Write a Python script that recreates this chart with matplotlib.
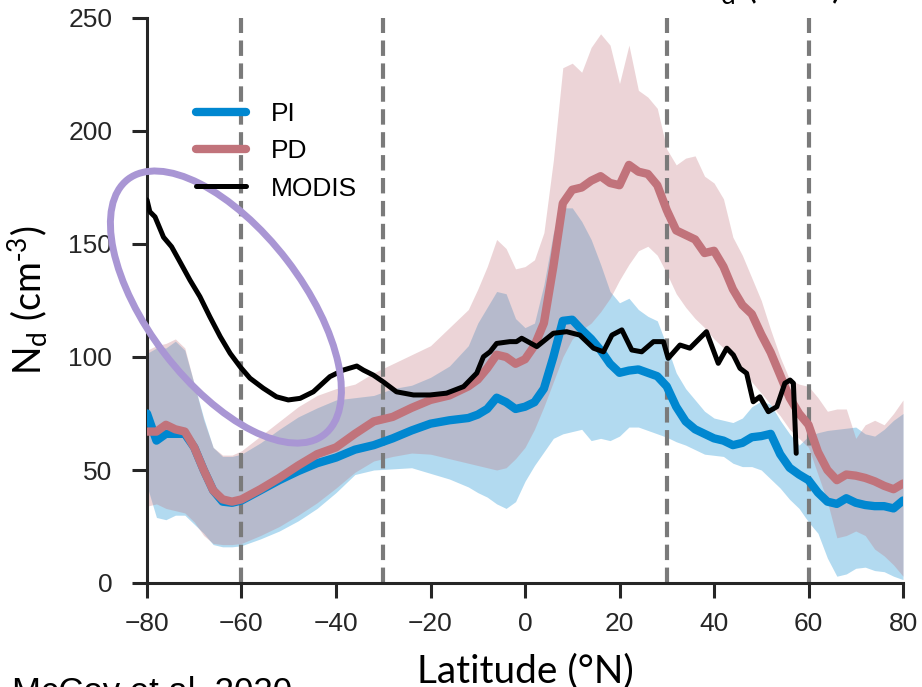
import numpy as np
import matplotlib
matplotlib.use("Agg")
import matplotlib.pyplot as plt
from matplotlib.patches import Ellipse
from matplotlib.transforms import ScaledTranslation

plt.rcParams['font.family'] = ['Liberation Sans', 'DejaVu Sans']
plt.rcParams['mathtext.default'] = 'regular'

# latitude grid for the model curves and their spread
lat = [-80, -78, -76, -74, -72, -70, -68, -66, -64, -62, -60, -56, -52, -48, -44,
       -40, -36, -32, -28, -24, -20, -16, -12, -10, -8, -6, -4, -2, 0, 2, 4, 6,
       8, 10, 12, 14, 16, 18, 20, 22, 24, 26, 28, 30, 32, 34, 36, 38, 40, 42, 44,
       46, 48, 50, 52, 54, 56, 58, 60, 62, 64, 66, 68, 70, 72, 74, 76, 78, 80]

pi_mean = [75, 63, 66, 66, 66, 60, 50, 41, 36, 35.5, 36.5, 41, 45.5, 49.5, 53,
           55.5, 59, 61, 64, 67.5, 70.5, 72, 73, 74.5, 77, 82, 80, 77, 78, 80, 86, 100,
           116, 116.5, 112, 108, 103, 97, 93, 94, 94.5, 93, 91.5, 87, 78, 71.5, 68,
           66, 64, 63, 61, 62, 64.5, 65, 66, 57, 51, 48, 45.5, 40, 36, 35, 37.5,
           35.5, 34.5, 34, 34, 33, 36.5]
pi_lo = [43, 29, 28, 30, 30, 26, 22, 17, 16, 16, 16.5, 19.5, 23, 27.5, 33,
         40, 48, 50, 50.5, 51, 48.5, 46, 42.5, 40, 38, 35, 33, 36, 45, 52, 58, 64,
         66, 67, 68, 63, 64, 63, 65, 69, 69, 67.5, 66, 64.5, 62.5, 61, 59, 57, 56.5,
         56, 53, 51.5, 51.5, 50, 46, 42, 37, 33, 27, 22, 11, 3, 4, 6.5, 7, 5.5,
         5, 3, 1.5]
pi_hi = [101.6, 104, 104, 107, 103, 88, 73, 60, 56, 56, 57, 62, 68, 73.5, 77.5,
         81, 82, 83, 86, 87.5, 91, 96, 105, 115, 122, 129, 128, 117, 113, 115, 132,
         155, 166, 166, 160, 152, 141, 129, 124, 126, 121, 118, 116, 105, 93, 86, 81,
         76, 73, 72, 71, 73, 78, 80.5, 79, 72, 66, 61, 65, 66.5, 67.5, 68, 68.5, 69,
         66, 65, 68, 72, 75]

pd_mean = [67, 67, 70, 68, 67, 60, 50, 41, 37, 36, 37, 41.5, 46.5, 52, 57,
           60, 66, 71.5, 73.5, 77.5, 81, 83, 87, 90, 95, 101, 100, 97, 99, 105, 115,
           140, 168, 174, 175, 178, 180, 177, 176, 185, 182, 181, 176, 165, 156, 154,
           152, 146, 147, 140, 130, 123, 119, 110, 102, 92, 82, 75, 70, 58, 50, 45.5,
           48, 47.5, 46.5, 45, 43, 41.5, 44]
pd_lo = [34, 35, 33, 32, 31, 27, 21, 17.5, 17, 17, 17.5, 21, 25, 30, 35.5,
         42, 49, 54, 56, 57.5, 57, 55, 53, 52, 51, 50, 51, 55, 60, 68, 78, 89,
         100, 108, 112, 115, 120, 126, 134, 141, 147, 149, 145, 137, 128, 122, 117,
         113, 108, 104, 99, 94, 89, 84, 79, 74, 68, 64, 60, 48, 36, 20, 21, 23, 21,
         15, 12, 8, 3]
pd_hi = [103, 105, 106, 108, 104, 88, 72, 60, 56.6, 56.6, 58.5, 65, 71.5, 78, 83,
         86, 88, 93, 97, 101, 105, 113, 121, 130, 140, 152, 148, 139, 140, 143, 155,
         187, 228, 230, 226, 237, 243, 238, 221, 238, 218, 215, 210, 192, 185, 188,
         189, 180, 177, 170, 153, 145, 135, 125, 112, 100, 90, 88, 87, 82, 76, 77,
         77, 64, 70, 72, 70, 75, 81]

# MODIS observations
modis_lat = [-80, -79.4, -78.3, -76.5, -74.8, -73, -70.9, -68.8, -66.7, -64.5, -62.4,
             -60.3, -58.2, -55.4, -52.6, -50.1, -47.6, -44.8, -41.3, -38.5, -35.6,
             -34.2, -32.1, -30, -27.2, -23.6, -20.1, -16.6, -13, -10.2, -8.8, -7.4,
             -6, -3.2, -1.8, -0.7, 2.5, 6, 8.8, 11.6, 14.5, 16.6, 18.4, 20.5, 22.6,
             24.7, 27.2, 29.3, 30.3, 32.8, 34.9, 37, 38.4, 40.9, 42.7, 44.1, 45.5,
             46.9, 48.3, 49.7, 51.5, 53.3, 55, 56.1, 56.8, 57.4]
modis = [169.5, 164.3, 162, 153, 148.8, 142, 134, 126.7, 117.8, 109, 101.6, 95.7,
         90.6, 86.2, 82.4, 81, 81.7, 84.6, 91.3, 94.2, 96, 94.2, 92, 89, 84.6, 83.2,
         83.2, 84, 86.9, 92.9, 100.1, 102.3, 106, 106.8, 106.8, 108.3, 104.6, 110.5,
         111.2, 109.7, 103.9, 102.3, 109.7, 112, 103.1, 102.3, 106.8, 106.8, 99.4,
         105.3, 103.9, 108.3, 111.2, 97.2, 103.9, 100.9, 95, 92.8, 80.2, 82.4, 75.8,
         78, 88.4, 89.8, 88.4, 57.4]

regions = [-60, -30, 30, 60]
xticks = [-80, -60, -40, -20, 0, 20, 40, 60, 80]
yticks = [0, 50, 100, 150, 200, 250]

pi_col = '#0087d0'
pd_col = '#c1737b'
ink = '#262626'
nd_label = r'N$_d$ (cm$^{\text{-}3}$)'

fig = plt.figure(figsize=(9.22, 6.87), dpi=100)
ax = fig.add_axes([147/922, 1 - 583/687, 756/922, 565/687])

ax.fill_between(lat, pi_lo, pi_hi, color=pi_col, alpha=0.3, lw=0, zorder=1)
ax.fill_between(lat, pd_lo, pd_hi, color=pd_col, alpha=0.3, lw=0, zorder=1)

for r in regions:
    ax.axvline(r, color='#7a7a7a', lw=3.0, dashes=(3.7, 1.8), zorder=2)

ax.plot(lat, pi_mean, color=pi_col, lw=6, solid_capstyle='round', label='PI', zorder=3)
ax.plot(lat, pd_mean, color=pd_col, lw=6, solid_capstyle='round', label='PD', zorder=3)
ax.plot(modis_lat, modis, color='black', lw=3.6, solid_capstyle='round',
        label='MODIS', zorder=4)

# highlight ellipse, sized in inches around a data point
trans = fig.dpi_scale_trans + ScaledTranslation(-63.3, 122.1, ax.transData)
ell = Ellipse((0, 0), 3.22, 1.54, angle=-52.5, fill=False, ec='#a996d4', lw=5,
              transform=trans, clip_on=False, zorder=5)
ax.add_patch(ell)

ax.set_xlim(-80, 80)
ax.set_ylim(0, 250)
ax.set_xticks(xticks)
ax.set_yticks(yticks)
for s in ['top', 'right']:
    ax.spines[s].set_visible(False)
for s in ['left', 'bottom']:
    ax.spines[s].set_linewidth(2.2)
    ax.spines[s].set_color(ink)
ax.tick_params(axis='both', length=11, width=2.2, color=ink, labelcolor=ink,
               labelsize=19)
ax.tick_params(axis='x', pad=10)
ax.tick_params(axis='y', pad=14)

ax.legend(loc='upper left', bbox_to_anchor=(0.065, 0.851), frameon=False, fontsize=19,
          handlelength=1.9, handletextpad=0.95, labelspacing=0.5, borderpad=0,
          borderaxespad=0)

fig.text(525.5/922, 1 - 682/687, 'Latitude (°N)', ha='center', va='baseline',
         family='Lato', size=28, color='black')
fig.text(28/922, 1 - 300/687, nd_label, rotation=90, ha='center',
         va='center', family='Lato', size=27, color='black')
fig.text(692/922, 1 + 1/687, nd_label, ha='left', va='baseline',
         family='Lato', size=27, color='black')
fig.text(12/922, 1 - 702/687, 'McCoy et al. 2020', ha='left', va='baseline',
         fontsize=25, color='black')

fig.savefig('out.png', dpi=100)
